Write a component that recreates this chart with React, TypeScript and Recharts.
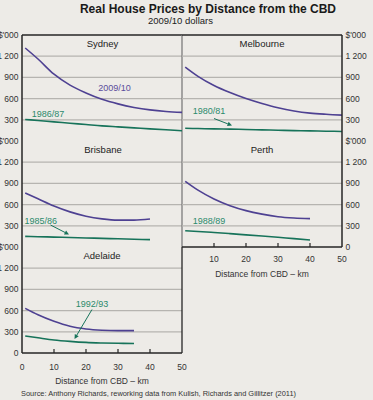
import React from 'react';
import { LineChart, Line, XAxis, YAxis, ReferenceLine } from 'recharts';

const FONT = '"Liberation Sans", Arial, Helvetica, sans-serif';
const BG = '#edebe7';
const PURPLE = '#4e4192';
const GREEN = '#17735a';
const GREEN_TEXT = '#2b8a6c';
const PURPLE_TEXT = '#5b4c9c';
const GRID = '#b6b4b0';
const BORDER = '#262626';
const SEP = '#7c7c7c';
const AXIS_TEXT = '#333333';

// ---- data (km from CBD, $'000 in 2009/10 dollars) ----
const sydneyKm = [1, 5, 10, 15, 20, 25, 30, 35, 40, 45, 50];
const sydney200910 = [1316, 1160, 945, 790, 680, 590, 525, 475, 440, 418, 405];
const sydney198687 = [305, 290, 271, 252, 233, 214, 200, 186, 172, 159, 146];

const melbourneKm = [1, 5, 10, 15, 20, 25, 30, 35, 40, 45, 50];
const melbourne200910 = [1046, 915, 785, 685, 600, 530, 470, 425, 395, 378, 366];
const melbourne198081 = [180, 176, 172, 168, 163, 158, 152, 147, 143, 139, 135];

const brisbaneKm = [1, 5, 10, 15, 20, 25, 30, 35, 40];
const brisbane200910 = [765, 682, 580, 497, 436, 398, 380, 380, 396];
const brisbane198586 = [150, 146, 140, 134, 128, 122, 116, 110, 104];

const perthKm = [1, 5, 10, 15, 20, 25, 30, 35, 40];
const perth200910 = [930, 805, 680, 585, 515, 465, 428, 410, 402];
const perth198889 = [231, 220, 205, 189, 172, 155, 137, 118, 100];

const adelaideKm = [1, 5, 10, 15, 20, 25, 30, 35];
const adelaide200910 = [632, 540, 448, 378, 340, 322, 316, 316];
const adelaide199293 = [240, 215, 185, 165, 150, 142, 137, 134];

const yTicks = [0, 300, 600, 900, 1200, 1500];
const gridValues = [300, 600, 900, 1200];
const perthXTicks = [10, 20, 30, 40, 50];
const adelaideXTicks = [0, 10, 20, 30, 40, 50];

function rows(km: number[], recent: number[], early: number[]) {
  return km.map((k, i) => ({ km: k, recent: recent[i], early: early[i] }));
}

function makeTick(axisBaselineOffset: number) {
  return (props: any) => {
    const { x, y, payload } = props;
    const v = payload.value;
    return (
      <g>
        {v > 0 && v < 50 ? (
          <line x1={x} x2={x} y1={y - 4} y2={y} stroke={BORDER} strokeWidth={1.2} />
        ) : null}
        <text
          x={x}
          y={y + axisBaselineOffset}
          textAnchor="middle"
          fontSize={8.5}
          fontFamily={FONT}
          fill={AXIS_TEXT}
        >
          {v}
        </text>
      </g>
    );
  };
}

type PanelProps = {
  left: number;
  top: number;
  width: number;
  height: number;
  margin: { top: number; right: number; bottom: number; left: number };
  data: any[];
  side: 'left' | 'right';
  showZero: boolean;
  topBorder?: boolean;
  sepColor?: string;
  xMode: 'none' | 'perth' | 'adelaide';
};

function Panel(p: PanelProps) {
  const fmt = (v: number) => {
    if (v === 1500) return "$'000";
    if (v === 0) return p.showZero ? '0' : '';
    if (v === 1200) return '1\u00A0200';
    return String(v);
  };
  return (
    <div style={{ position: 'absolute', left: p.left, top: p.top }}>
      <LineChart width={p.width} height={p.height} data={p.data} margin={p.margin}>
        {gridValues.map((g) => (
          <ReferenceLine key={g} y={g} stroke={GRID} strokeWidth={1.3} />
        ))}
        {p.topBorder ? <ReferenceLine y={1500} stroke={BORDER} strokeWidth={1.5} /> : null}
        {p.sepColor ? <ReferenceLine x={50} stroke={p.sepColor} strokeWidth={1.3} /> : null}
        {p.xMode === 'none' ? (
          <XAxis
            dataKey="km"
            type="number"
            domain={[0, 50]}
            tick={false}
            tickLine={false}
            height={0}
            axisLine={{ stroke: BORDER, strokeWidth: 1.5 }}
          />
        ) : (
          <XAxis
            dataKey="km"
            type="number"
            domain={[0, 50]}
            ticks={p.xMode === 'perth' ? perthXTicks : adelaideXTicks}
            interval={0}
            tickSize={0}
            tickMargin={0}
            tickLine={false}
            height={36}
            axisLine={{ stroke: BORDER, strokeWidth: 1.5 }}
            tick={makeTick(p.xMode === 'perth' ? 14.5 : 16.5)}
            label={{
              value: 'Distance from CBD – km',
              position: 'insideBottom',
              offset: p.xMode === 'perth' ? 6 : 5,
              fontSize: 8.5,
              fontFamily: FONT,
              fill: AXIS_TEXT,
            }}
          />
        )}
        <YAxis
          orientation={p.side}
          type="number"
          domain={[0, 1500]}
          ticks={yTicks}
          interval={0}
          width={p.side === 'left' ? 22 : 31}
          tickSize={0}
          tickMargin={3.5}
          tickLine={false}
          axisLine={{ stroke: BORDER, strokeWidth: 1.5 }}
          tick={{ fontSize: 8.5, fontFamily: FONT, fill: AXIS_TEXT }}
          tickFormatter={fmt}
        />
        <Line
          type="monotone"
          dataKey="early"
          stroke={GREEN}
          strokeWidth={1.6}
          dot={false}
          isAnimationActive={false}
        />
        <Line
          type="monotone"
          dataKey="recent"
          stroke={PURPLE}
          strokeWidth={1.6}
          dot={false}
          isAnimationActive={false}
        />
      </LineChart>
    </div>
  );
}

function Arrow({ x1, y1, x2, y2 }: { x1: number; y1: number; x2: number; y2: number }) {
  const a = Math.atan2(y2 - y1, x2 - x1);
  const L = 4.5;
  const W = 2.3;
  const bx = x2 - L * Math.cos(a);
  const by = y2 - L * Math.sin(a);
  const p1 = `${x2},${y2}`;
  const p2 = `${bx + W * Math.sin(a)},${by - W * Math.cos(a)}`;
  const p3 = `${bx - W * Math.sin(a)},${by + W * Math.cos(a)}`;
  return (
    <g>
      <line x1={x1} y1={y1} x2={bx} y2={by} stroke={GREEN} strokeWidth={1} />
      <polygon points={`${p1} ${p2} ${p3}`} fill={GREEN} />
    </g>
  );
}

const txt = { fontFamily: FONT } as const;

export default function App() {
  return (
    <div
      style={{
        position: 'absolute',
        left: 0,
        top: 0,
        width: 373,
        height: 400,
        background: BG,
        overflow: 'hidden',
      }}
    >
      <Panel
        left={0}
        top={27}
        width={184}
        height={122}
        margin={{ top: 8, right: 2, bottom: 8, left: 0 }}
        data={rows(sydneyKm, sydney200910, sydney198687)}
        side="left"
        showZero={false}
        topBorder
        sepColor={SEP}
        xMode="none"
      />
      <Panel
        left={180}
        top={27}
        width={193}
        height={122}
        margin={{ top: 8, right: 0, bottom: 8, left: 2 }}
        data={rows(melbourneKm, melbourne200910, melbourne198081)}
        side="right"
        showZero={false}
        topBorder
        xMode="none"
      />
      <Panel
        left={0}
        top={133}
        width={184}
        height={122}
        margin={{ top: 8, right: 2, bottom: 8, left: 0 }}
        data={rows(brisbaneKm, brisbane200910, brisbane198586)}
        side="left"
        showZero={false}
        sepColor={SEP}
        xMode="none"
      />
      <Panel
        left={180}
        top={133}
        width={193}
        height={150}
        margin={{ top: 8, right: 0, bottom: 0, left: 2 }}
        data={rows(perthKm, perth200910, perth198889)}
        side="right"
        showZero={true}
        xMode="perth"
      />
      <Panel
        left={0}
        top={239}
        width={192}
        height={150}
        margin={{ top: 8, right: 10, bottom: 0, left: 0 }}
        data={rows(adelaideKm, adelaide200910, adelaide199293)}
        side="left"
        showZero={true}
        sepColor={BORDER}
        xMode="adelaide"
      />
      <svg
        width={373}
        height={400}
        style={{ position: 'absolute', left: 0, top: 0, pointerEvents: 'none' }}
      >
        <text x={208} y={13} textAnchor="middle" fontSize={12} fontWeight="bold" fill="#1a1a1a" {...txt}>
          Real House Prices by Distance from the CBD
        </text>
        <text x={180.5} y={23.5} textAnchor="middle" fontSize={9.5} fill="#222" {...txt}>
          2009/10 dollars
        </text>

        <text x={102.5} y={46.5} textAnchor="middle" fontSize={9.5} fill="#222" {...txt}>Sydney</text>
        <text x={262} y={46.5} textAnchor="middle" fontSize={9.5} fill="#222" {...txt}>Melbourne</text>
        <text x={103} y={152.5} textAnchor="middle" fontSize={9.5} fill="#222" {...txt}>Brisbane</text>
        <text x={262} y={152.5} textAnchor="middle" fontSize={9.5} fill="#222" {...txt}>Perth</text>
        <text x={102} y={258.5} textAnchor="middle" fontSize={9.5} fill="#222" {...txt}>Adelaide</text>

        <text x={114.5} y={90.5} textAnchor="middle" fontSize={9} fill={PURPLE_TEXT} {...txt}>2009/10</text>
        <text x={48} y={117} textAnchor="middle" fontSize={9} fill={GREEN_TEXT} {...txt}>1986/87</text>
        <text x={209} y={113.5} textAnchor="middle" fontSize={9} fill={GREEN_TEXT} {...txt}>1980/81</text>
        <Arrow x1={214} y1={118.5} x2={232} y2={125.5} />
        <text x={40.7} y={223.5} textAnchor="middle" fontSize={9} fill={GREEN_TEXT} {...txt}>1985/86</text>
        <Arrow x1={50.5} y1={225} x2={69} y2={234.5} />
        <text x={209} y={224} textAnchor="middle" fontSize={9} fill={GREEN_TEXT} {...txt}>1988/89</text>
        <text x={92} y={307} textAnchor="middle" fontSize={9} fill={GREEN_TEXT} {...txt}>1992/93</text>
        <Arrow x1={92} y1={309.5} x2={74.5} y2={339} />

        <text
          x={21}
          y={396}
          fontSize={8}
          fill="#333"
          textLength={275}
          lengthAdjust="spacingAndGlyphs"
          {...txt}
        >
          Source:  Anthony Richards, reworking data from Kulish, Richards and Gillitzer (2011)
        </text>
      </svg>
    </div>
  );
}
